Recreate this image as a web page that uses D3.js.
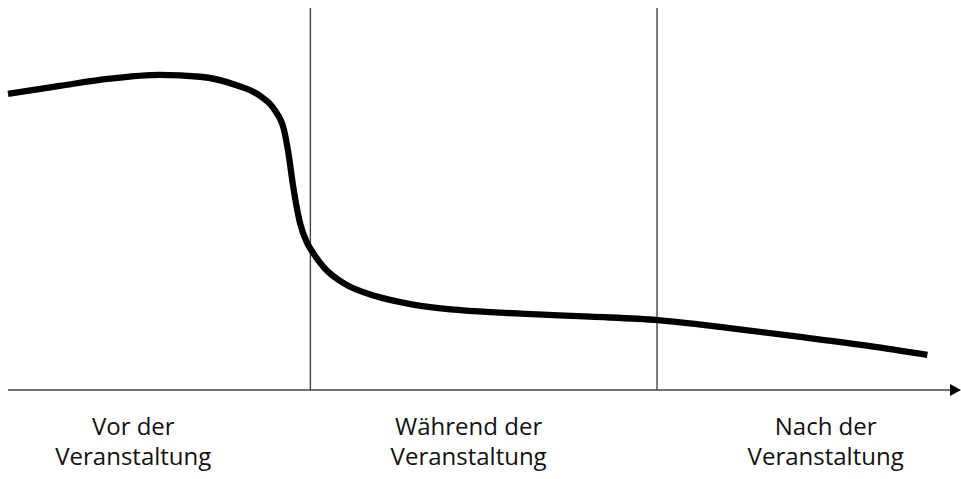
<!DOCTYPE html>
<html>

<head>
    <meta charset="utf-8">
    <script type="text/javascript" src="https://cdn.jsdelivr.net/npm/d3@7"></script>
    <style>
        body { margin: 0; background: #fff; }
        text { font-family: "Open Sans", sans-serif; fill: #111; }
    </style>
</head>

<body>
    <div id="viz"></div>

    <script type="text/javascript">
        // progress of the event (0..100) and a rough level (0..100)
        var curveX = [0, 5.5, 10.8, 16.1, 20.4, 24.1, 26.75, 28.3, 29.3, 29.8, 30.25, 31.0, 31.75, 32.2, 33.6, 35.8, 39.0, 42.7, 48.0, 54.4, 61.8, 69.0, 76.6, 84.1, 91.5, 97.6];
        var curveY = [77.5, 79.6, 81.5, 82.5, 82.0, 79.9, 77.0, 73.3, 68.1, 61.5, 53.7, 43.7, 38.5, 36.6, 31.9, 27.7, 24.6, 22.5, 20.9, 20.0, 19.2, 18.3, 16.2, 13.9, 11.5, 9.2];

        var phaseBreaks = [32.1, 68.9];
        var phaseLabels = [
            ["Vor der", "Veranstaltung"],
            ["Während der", "Veranstaltung"],
            ["Nach der", "Veranstaltung"]
        ];
        var labelPos = [13.3, 48.9, 86.8];

        var width = 961, height = 479;

        var svg = d3.select("#viz")
            .append("svg")
            .attr("width", width)
            .attr("height", height);

        var x = d3.scaleLinear().domain([0, 100]).range([8, 950]);
        var y = d3.scaleLinear().domain([0, 100]).range([390, 8]);

        // phase separators
        svg.selectAll("line.phase")
            .data(phaseBreaks)
            .enter().append("line")
            .attr("class", "phase")
            .attr("x1", function (d) { return x(d); })
            .attr("x2", function (d) { return x(d); })
            .attr("y1", y(100))
            .attr("y2", y(0))
            .style("stroke", "#444")
            .style("stroke-width", 1.4);

        // time axis with arrow head
        svg.append("line")
            .attr("x1", x(0))
            .attr("x2", x(100))
            .attr("y1", y(0))
            .attr("y2", y(0))
            .style("stroke", "#444")
            .style("stroke-width", 1.6);

        svg.append("path")
            .attr("d", d3.line()([[x(100), y(0) - 6], [x(100) + 11, y(0)], [x(100), y(0) + 6]]) + "Z")
            .style("fill", "#000");

        // the curve
        var pts = curveX.map(function (d, i) { return [d, curveY[i]]; });
        var line = d3.line()
            .x(function (d) { return x(d[0]); })
            .y(function (d) { return y(d[1]); })
            .curve(d3.curveMonotoneX);

        svg.append("path")
            .datum(pts)
            .attr("d", line)
            .style("fill", "none")
            .style("stroke", "#000")
            .style("stroke-width", 6.3)
            .style("stroke-linecap", "butt");

        // phase labels
        var lbl = svg.selectAll("text.phase")
            .data(phaseLabels)
            .enter().append("text")
            .attr("class", "phase")
            .attr("text-anchor", "middle")
            .style("font-size", "24px");

        lbl.each(function (d, i) {
            var t = d3.select(this);
            d.forEach(function (s, j) {
                t.append("tspan")
                    .attr("x", x(labelPos[i]))
                    .attr("y", 435 + j * 30)
                    .text(s);
            });
        });
    </script>

</body>
</html>
